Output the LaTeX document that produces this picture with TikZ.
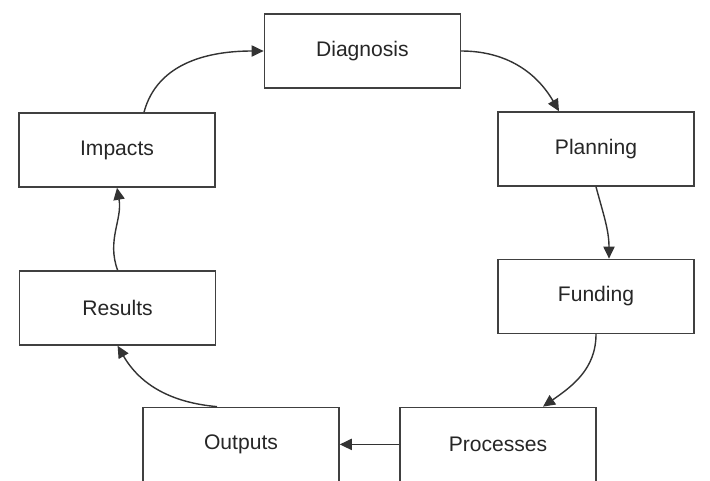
\documentclass[tikz,border=0pt]{standalone}
\usepackage{fontspec}
\setmainfont{Liberation Sans}
\usepackage{tikz}
\usetikzlibrary{arrows.meta}

\begin{document}
\begin{tikzpicture}[
		stage/.style={rectangle,draw=black!75,line width=1.1pt,minimum width=4.9cm,minimum height=1.85cm,inner sep=0pt,font=\fontsize{15}{18}\selectfont,text=black!85},
		flow/.style={draw=black!80,line width=1pt,-{Triangle[length=0.3cm,width=0.28cm]}}]
			\useasboundingbox (0,0) rectangle (17.75,-12);
			
			% stages
			
			\node[stage] (diag) at (9.06,-1.275) {Diagnosis};
			\node[stage] (plan) at (14.9,-3.725) {Planning};
			\node[stage] (fund) at (14.9,-7.41) {Funding};
			\node[stage] (proc) at (12.45,-11.11) {Processes};
			\node[stage] (outp) at (6.025,-11.11) {Outputs};
			\node[stage] (resu) at (2.94,-7.7) {Results};
			\node[stage] (impa) at (2.925,-3.75) {Impacts};
			
			% cycle
			
			\draw[flow] (diag.east) to[out=0,in=120] ([xshift=-0.925cm]plan.north);
			\draw[flow] (plan.south) to[out=-75,in=90] ([xshift=0.325cm]fund.north);
			\draw[flow] (fund.south) to[out=-90,in=35] ([xshift=1.125cm]proc.north);
			\draw[flow] (proc.west) -- (outp.east);
			\draw[flow] ([xshift=-0.6cm]outp.north) to[out=175,in=-60] (resu.south);
			\draw[flow] (resu.north) to[out=110,in=-80] (impa.south);
			\draw[flow] ([xshift=0.675cm]impa.north) to[out=75,in=180] (diag.west);
		\end{tikzpicture}
\end{document}
